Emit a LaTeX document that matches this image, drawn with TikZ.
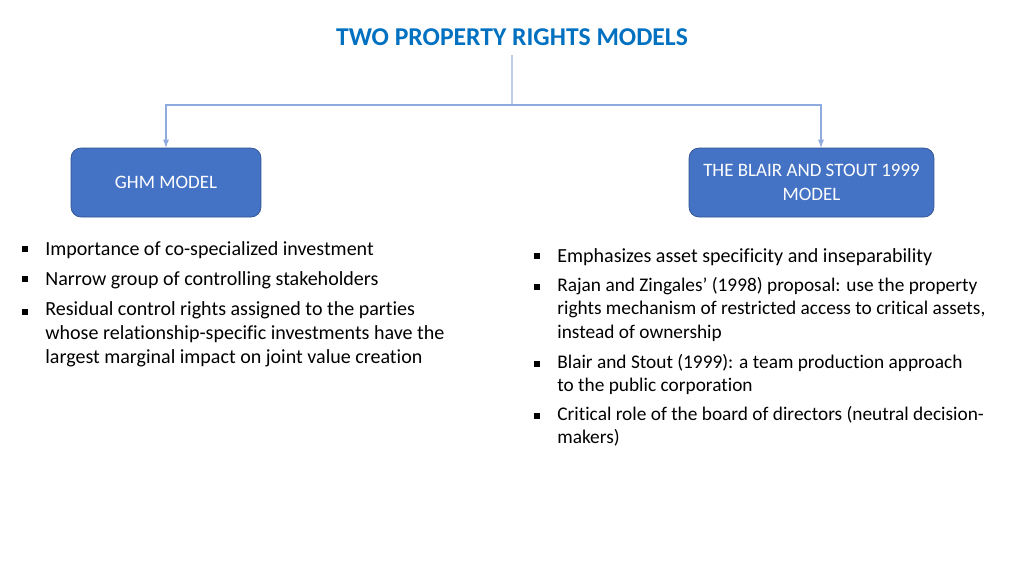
\documentclass[tikz,border=0pt]{standalone}
\usepackage{fontspec}
\setmainfont{Carlito}[Ligatures=NoCommon]
\usetikzlibrary{positioning,calc,arrows.meta}
\definecolor{titolo}{RGB}{0,112,192}
\definecolor{riempi}{RGB}{68,114,196}
\definecolor{bordo}{RGB}{47,82,143}
\definecolor{linea}{RGB}{143,170,220}
\tikzstyle{modello} = [rectangle, 
rounded corners=0.2cm, minimum height=1.38cm, text centered, align=center, draw=bordo, fill=riempi, text=white, font=\fontsize{10.8}{13.6}\selectfont]
\tikzstyle{arrow} = [draw=linea, line width=0.6pt, ->, >=latex]
\tikzstyle{punto} = [rectangle, fill=black, inner sep=0pt, minimum size=0.12cm]
\tikzstyle{voce} = [anchor=north west, inner sep=0pt, align=left, execute at begin node=\strut, font=\fontsize{11.4}{13.6}\selectfont]
\tikzstyle{vocina} = [voce, font=\fontsize{11}{13.3}\selectfont]

\begin{document}
\begin{tikzpicture}[x=0.02cm, y=-0.02cm]
							\useasboundingbox (0,0) rectangle (1024,576);
							\node (titolo) at (512,37) [minimum height=0.72cm, text=titolo, font=\fontsize{14.6}{17}\selectfont\bfseries] {TWO PROPERTY RIGHTS MODELS};
							\coordinate (split) at (512,105);
							\node (ghm) at (166,182.5) [modello, minimum width=3.8cm] {GHM MODEL};
							\node (bs) at (811.5,182.5) [modello, minimum width=4.9cm] {THE BLAIR AND STOUT 1999\\MODEL};
							\draw[draw=linea!60, line width=0.6pt] (titolo) -- (split);
							\draw[arrow] (split) -| (ghm);
							\draw[arrow] (split) -| ([xshift=0.19cm]bs.north);
							% GHM
							\node[punto] (pa) at (25,249) {};
							\node[voce] (va) at (45,238) {Importance of co-specialized investment};
							\node[punto] (pb) at (25,279) {};
							\node[voce] (vb) at (45,268) {Narrow group of controlling stakeholders};
							\node[punto] (pc) at (25,312) {};
							\node[voce] (vc) at (45,301) {Residual control rights assigned to the parties\\whose relationship-specific investments have the\\largest marginal impact on joint value creation};
							% Blair and Stout
							\node[punto] (qa) at (537,256) {};
							\node[voce] (wa) at (557,245) {Emphasizes asset specificity and inseparability};
							\node[punto] (qb) at (537,287) {};
							\node[vocina] (wb) at (557,277) {Rajan and Zingales’ (1998) proposal: use the property\\rights mechanism of restricted access to critical assets,\\instead of ownership};
							\node[punto] (qc) at (537,364) {};
							\node[vocina] (wc) at (557,354) {Blair and Stout (1999): a team production approach\\to the public corporation};
							\node[punto] (qd) at (537,416) {};
							\node[vocina] (wd) at (557,406) {Critical role of the board of directors (neutral decision-\\makers)};
						\end{tikzpicture}
\end{document}
